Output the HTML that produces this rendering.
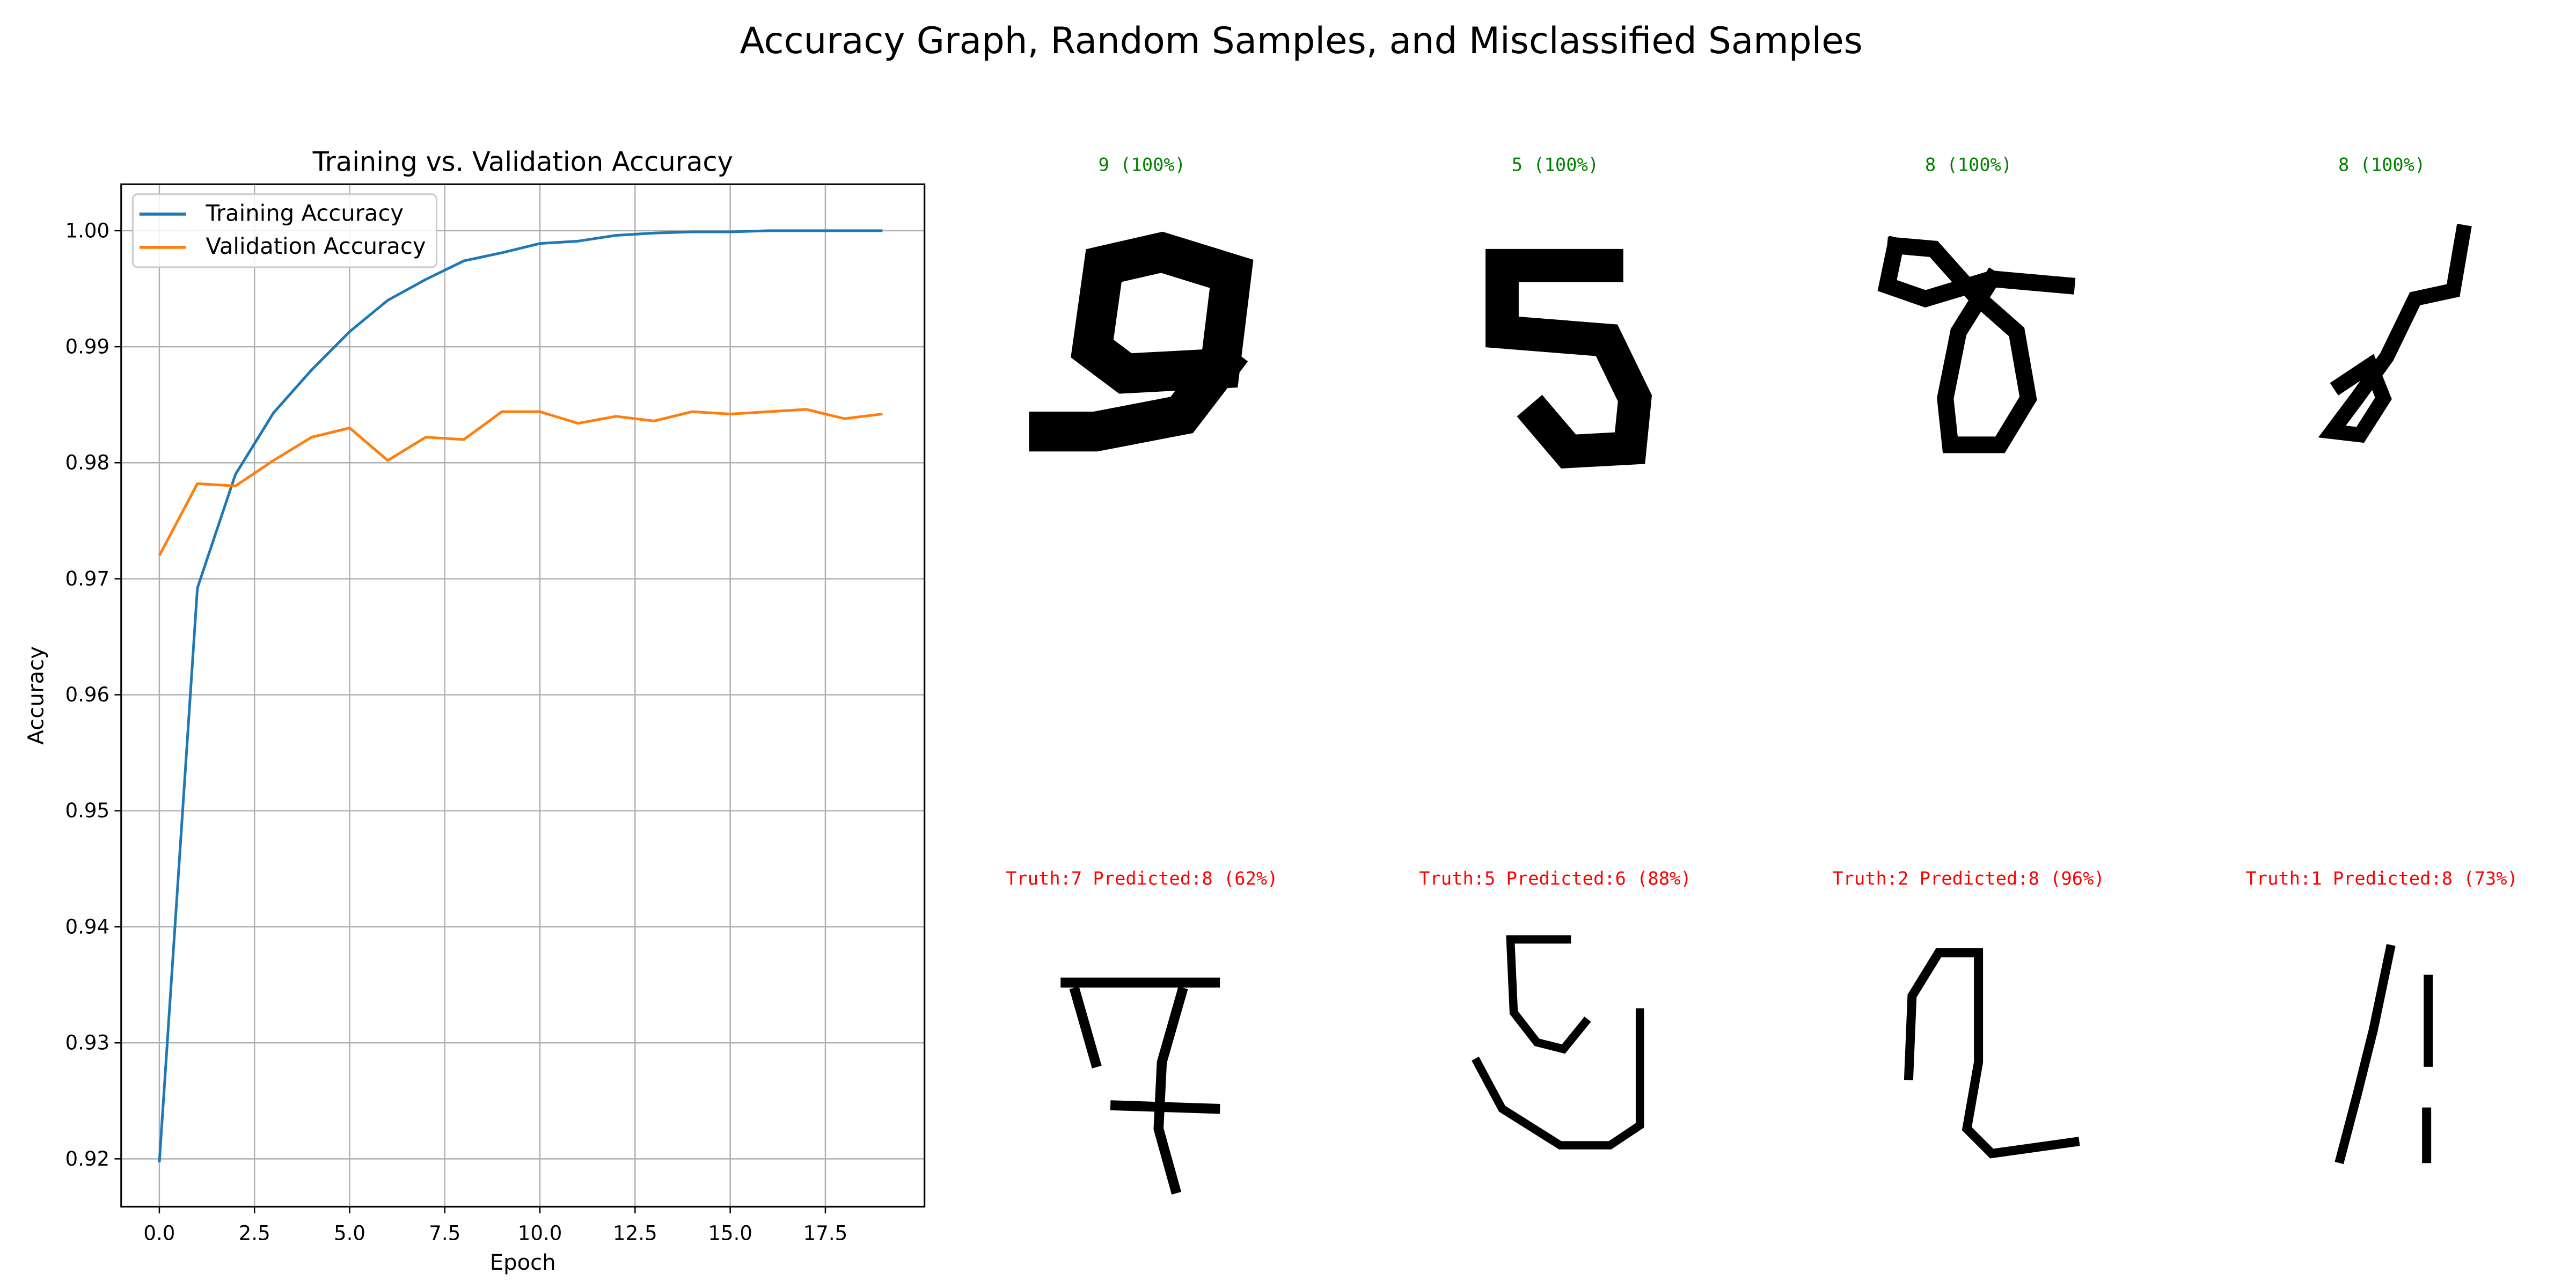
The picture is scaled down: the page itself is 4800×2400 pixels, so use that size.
<!DOCTYPE html>
<html><head><meta charset="utf-8"><style>html,body{margin:0;padding:0;background:#fff}svg{display:block}</style></head><body>
<svg id="fig" xmlns="http://www.w3.org/2000/svg" width="4800" height="2400" viewBox="0 0 1552 776" font-family="'DejaVu Sans','Liberation Sans',sans-serif">
<rect width="1552" height="776" fill="#fff"/>
<text x="784" y="32" font-size="21.8" text-anchor="middle">Accuracy Graph, Random Samples, and Misclassified Samples</text>
<text x="315" y="103" font-size="16" text-anchor="middle">Training vs. Validation Accuracy</text>
<g id="grid"></g><g id="series"></g>
<rect x="73" y="111" width="484" height="616" fill="none" stroke="#000" stroke-width="1"/>
<g id="ticks" font-size="12"></g>
<text x="315" y="765" font-size="13" text-anchor="middle">Epoch</text>
<text x="26" y="419" font-size="13" text-anchor="middle" transform="rotate(-90 26 419)">Accuracy</text>
<g>
<rect x="80" y="117" width="183" height="44" rx="3" fill="#fff" fill-opacity="0.85" stroke="#ccc"/>
<line x1="84" y1="129" x2="112" y2="129" stroke="#1f77b4" stroke-width="1.8"/>
<text x="124" y="133" font-size="13.5">Training Accuracy</text>
<line x1="84" y1="149" x2="112" y2="149" stroke="#ff7f0e" stroke-width="1.8"/>
<text x="124" y="153" font-size="13.5">Validation Accuracy</text>
</g>
<g font-family="'DejaVu Sans Mono','Liberation Mono',monospace" font-size="10.9" text-anchor="middle">
<text x="688" y="103" fill="green">9 (100%)</text>
<text x="937" y="103" fill="green">5 (100%)</text>
<text x="1186" y="103" fill="green">8 (100%)</text>
<text x="1435" y="103" fill="green">8 (100%)</text>
<text x="688" y="533" fill="red">Truth:7 Predicted:8 (62%)</text>
<text x="937" y="533" fill="red">Truth:5 Predicted:6 (88%)</text>
<text x="1186" y="533" fill="red">Truth:2 Predicted:8 (96%)</text>
<text x="1435" y="533" fill="red">Truth:1 Predicted:8 (73%)</text>
</g>
<g fill="none" stroke="#000" stroke-linecap="square" stroke-linejoin="miter">
<path d="M665 160 L658 210 L678 225 L735 222 L742 165 L700 152 Z M735 220 L712 250 L660 260 L632 260" stroke-width="24"/>
<path d="M968 160 L905 160 L905 200 L968 205 L985 240 L982 270 L945 272 L928 252" stroke-width="20"/>
<path d="M1142 148 L1137 172 L1160 180 L1200 168 L1245 172 M1200 168 L1180 200 L1172 240 L1175 268 L1205 268 L1222 240 L1215 200 L1190 178 L1165 150 L1142 148" stroke-width="10"/>
<path d="M1484 140 L1478 175 L1455 180 L1438 215 L1420 240 L1405 260 L1422 262 L1436 240 L1428 220 L1410 232" stroke-width="9"/>
<path d="M642 592 L732 592 M648 598 L660 640 M712 598 L700 640 L698 680 L708 716 M672 666 L732 668" stroke-width="6"/>
<path d="M944 566 L910 566 L912 610 L926 628 L942 632 L955 616 M988 610 L988 678 L970 690 L940 690 L905 668 L890 640" stroke-width="5"/>
<path d="M1150 648 L1152 600 L1168 574 L1192 574 L1192 640 L1185 680 L1200 695 L1250 688" stroke-width="5.5"/>
<path d="M1440 572 L1430 620 L1420 660 L1410 698 M1463 590 L1463 640 M1462 670 L1462 698" stroke-width="5.5"/>
</g>
</svg>
<script>
const epochs=[0,1,2,3,4,5,6,7,8,9,10,11,12,13,14,15,16,17,18,19];
const trainAcc=[0.9197,0.9692,0.9790,0.9843,0.9880,0.9913,0.9940,0.9958,0.9974,0.9981,0.9989,0.9991,0.9996,0.9998,0.9999,0.9999,1.0000,1.0000,1.0000,1.0000];
const valAcc=[0.9720,0.9782,0.9780,0.9802,0.9822,0.9830,0.9802,0.9822,0.9820,0.9844,0.9844,0.9834,0.9840,0.9836,0.9844,0.9842,0.9844,0.9846,0.9838,0.9842];
const xTicks=[0,2.5,5,7.5,10,12.5,15,17.5];
const xTickLabels=["0.0","2.5","5.0","7.5","10.0","12.5","15.0","17.5"];
const yTicks=[0.92,0.93,0.94,0.95,0.96,0.97,0.98,0.99,1.00];
const yTickLabels=["0.92","0.93","0.94","0.95","0.96","0.97","0.98","0.99","1.00"];
const NS="http://www.w3.org/2000/svg";
function xs(v){return 96+v*22.93;}
function ys(v){return 139+(1-v)*6990;}
const grid=document.getElementById('grid'),ticks=document.getElementById('ticks'),series=document.getElementById('series');
function mk(tag,attrs,parent){const e=document.createElementNS(NS,tag);for(const k in attrs)e.setAttribute(k,attrs[k]);parent.appendChild(e);return e;}
xTicks.forEach((t,i)=>{
 const g=mk('line',{x1:xs(t),x2:xs(t),y1:111,y2:727,stroke:'#b0b0b0','stroke-width':0.8},grid);
 
 
 const tk=mk('line',{x1:xs(t),x2:xs(t),y1:727,y2:731,stroke:'#000','stroke-width':0.8},ticks);
 
 
 const tx=mk('text',{x:xs(t),y:747,'text-anchor':'middle'},ticks);tx.textContent=xTickLabels[i];
 
 
});
yTicks.forEach((t,i)=>{
 const g=mk('line',{x1:73,x2:557,y1:ys(t),y2:ys(t),stroke:'#b0b0b0','stroke-width':0.8},grid);
 
 
 const tk=mk('line',{x1:69,x2:73,y1:ys(t),y2:ys(t),stroke:'#000','stroke-width':0.8},ticks);
 
 
 const tx=mk('text',{x:66,y:ys(t)+4,'text-anchor':'end'},ticks);tx.textContent=yTickLabels[i];
 
 
});
function line(vals,color,name){
 const pts=vals.map((v,i)=>xs(epochs[i])+','+ys(v)).join(' ');
 const p=mk('polyline',{points:pts,fill:'none',stroke:color,'stroke-width':1.6,'stroke-linejoin':'round'},series);
 
 
}
line(trainAcc,'#1f77b4','training-accuracy-line');
line(valAcc,'#ff7f0e','validation-accuracy-line');
</script>
</body></html>
